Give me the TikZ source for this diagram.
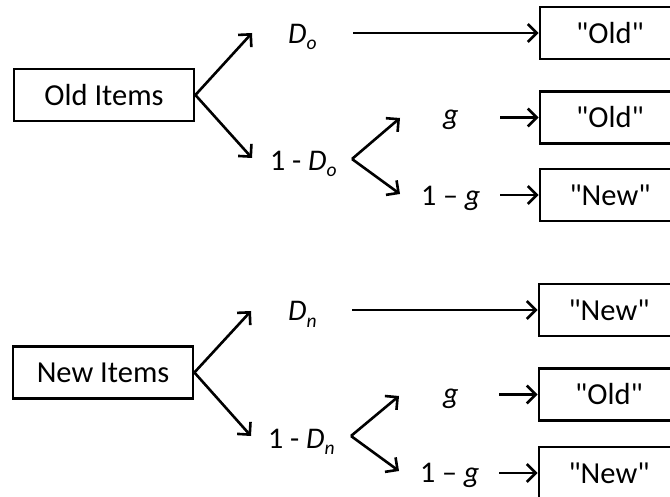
\documentclass[tikz,border=0pt]{standalone}
\usepackage{fontspec}
\setmainfont{Carlito}[Ligatures=TeXOff]
\usetikzlibrary{arrows.meta}
\newcommand{\lsub}[1]{\raisebox{-6pt}{\fontsize{19.5}{22}\selectfont\itshape #1}}
\begin{document}
\begin{tikzpicture}[x=1pt,y=-1pt,
  box/.style={draw,line width=2.8pt,minimum width=180pt,minimum height=52pt,inner sep=0pt,font=\fontsize{30.5}{36}\selectfont},
  res/.style={draw,line width=2.8pt,minimum width=140pt,minimum height=52pt,inner sep=0pt,font=\fontsize{30.5}{36}\selectfont},
  lab/.style={inner sep=0pt,anchor=base west,font=\fontsize{30}{34}\selectfont},
  arr/.style={line width=2.6pt,-{Straight Barb[length=9pt,width=18pt,line width=2.6pt]}},
]
\clip (0,0) rectangle (670,497);
% top tree
\node[box] (old) at (104,95) {Old Items};
\node[res] (o1) at (610,33) {"Old"};
\node[res] (o2) at (610,117.5) {"Old"};
\node[res] (n1) at (610,195) {"New"};
\node[lab] (lDo) at (288,44) {\textit{D}\lsub{o}};
\node[lab] (lmDo) at (270,171) {1 - \textit{D}\lsub{o}};
\node[lab] (lg1) at (443,125) {\textit{g}};
\node[lab] (lmg1) at (421,206) {1 – \textit{g}};
\coordinate (a1) at (252,33);
\coordinate (a2) at (252,158);
\coordinate (s1) at (353,33);
\coordinate (f1) at (352,159);
\coordinate (b1) at (400,118);
\coordinate (b2) at (400,194);
\coordinate (s2) at (500,117.5);
\coordinate (s3) at (500,195);
\draw[arr] (old.east) -- (a1);
\draw[arr] (old.east) -- (a2);
\draw[arr] (s1) -- (s1 -| o1.west);
\draw[arr] (f1) -- (b1);
\draw[arr] (f1) -- (b2);
\draw[arr] (s2) -- (s2 -| o2.west);
\draw[arr] (s3) -- (s3 -| n1.west);
% bottom tree
\node[box] (new) at (103,372.5) {New Items};
\node[res] (n2) at (609,310) {"New"};
\node[res] (o3) at (609,394.5) {"Old"};
\node[res] (n3) at (609,473) {"New"};
\node[lab] (lDn) at (288,321) {\textit{D}\lsub{n}};
\node[lab] (lmDn) at (268,448) {1 - \textit{D}\lsub{n}};
\node[lab] (lg2) at (443,403) {\textit{g}};
\node[lab] (lmg2) at (420,482) {1 – \textit{g}};
\coordinate (c1) at (251,311);
\coordinate (c2) at (251,436);
\coordinate (t1) at (352,310);
\coordinate (f2) at (351,436);
\coordinate (d1) at (399,396);
\coordinate (d2) at (399,471);
\coordinate (t2) at (499,394.5);
\coordinate (t3) at (499,473);
\draw[arr] (new.east) -- (c1);
\draw[arr] (new.east) -- (c2);
\draw[arr] (t1) -- (t1 -| n2.west);
\draw[arr] (f2) -- (d1);
\draw[arr] (f2) -- (d2);
\draw[arr] (t2) -- (t2 -| o3.west);
\draw[arr] (t3) -- (t3 -| n3.west);
\end{tikzpicture}
\end{document}
